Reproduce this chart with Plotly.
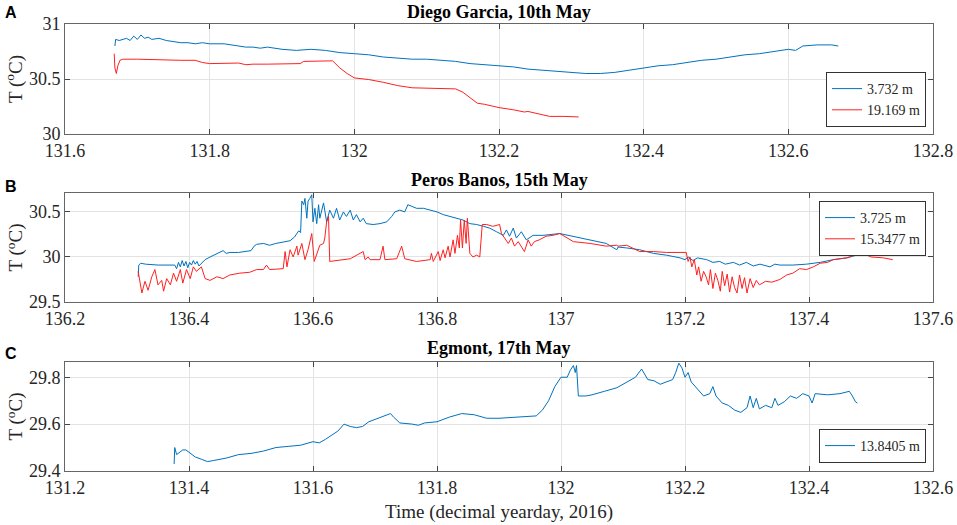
import plotly.graph_objects as go

# Diego Garcia, 10th May
dg_blue_x = [131.669, 131.670, 131.675, 131.680, 131.685, 131.690, 131.695, 131.700, 131.705, 131.710,
             131.715, 131.720, 131.730, 131.740, 131.750, 131.760, 131.770, 131.780, 131.790, 131.800,
             131.820, 131.840, 131.850, 131.860, 131.870, 131.880, 131.900, 131.920, 131.940, 131.960,
             131.980, 132.000, 132.020, 132.040, 132.060, 132.080, 132.100, 132.120, 132.140, 132.160,
             132.180, 132.200, 132.220, 132.240, 132.260, 132.280, 132.300, 132.320, 132.340, 132.360,
             132.380, 132.400, 132.420, 132.440, 132.460, 132.480, 132.500, 132.520, 132.540, 132.560,
             132.580, 132.600, 132.610, 132.620, 132.640, 132.660, 132.669]
dg_blue_y = [30.80, 30.86, 30.85, 30.86, 30.87, 30.85, 30.89, 30.86, 30.90, 30.87,
             30.88, 30.86, 30.87, 30.85, 30.84, 30.83, 30.83, 30.82, 30.83, 30.82,
             30.82, 30.80, 30.79, 30.79, 30.78, 30.79, 30.77, 30.76, 30.77, 30.76,
             30.74, 30.73, 30.72, 30.70, 30.69, 30.68, 30.68, 30.67, 30.66, 30.64,
             30.63, 30.62, 30.61, 30.59, 30.58, 30.57, 30.56, 30.55, 30.55, 30.56,
             30.58, 30.60, 30.62, 30.63, 30.65, 30.67, 30.68, 30.70, 30.72, 30.73,
             30.75, 30.77, 30.76, 30.80, 30.81, 30.81, 30.80]
dg_red_x = [131.668, 131.669, 131.671, 131.673, 131.676, 131.680, 131.700, 131.720, 131.740, 131.760,
            131.780, 131.790, 131.800, 131.820, 131.840, 131.850, 131.860, 131.880, 131.900, 131.925,
            131.930, 131.950, 131.970, 131.980, 131.990, 132.000, 132.020, 132.040, 132.060, 132.080,
            132.100, 132.120, 132.140, 132.150, 132.160, 132.170, 132.180, 132.200, 132.220, 132.230,
            132.235, 132.240, 132.250, 132.270, 132.290, 132.310]
dg_red_y = [30.73, 30.60, 30.55, 30.62, 30.67, 30.68, 30.68, 30.675, 30.675, 30.67,
            30.67, 30.65, 30.64, 30.645, 30.645, 30.63, 30.635, 30.635, 30.635, 30.64,
            30.66, 30.665, 30.665, 30.60, 30.55, 30.51, 30.495, 30.47, 30.44, 30.42,
            30.415, 30.415, 30.41, 30.38, 30.33, 30.28, 30.27, 30.24, 30.22, 30.21,
            30.20, 30.205, 30.19, 30.16, 30.16, 30.155]

# Peros Banos, 15th May
pb_blue_x = [136.318, 136.319, 136.322, 136.330, 136.350, 136.377, 136.380, 136.383, 136.386, 136.389,
             136.392, 136.395, 136.398, 136.401, 136.404, 136.407, 136.410, 136.413, 136.416, 136.420,
             136.426, 136.434, 136.445, 136.450, 136.455, 136.460, 136.466, 136.480, 136.490, 136.500,
             136.505, 136.509, 136.520, 136.530, 136.540, 136.550, 136.563, 136.570, 136.577, 136.580,
             136.582, 136.585, 136.587, 136.590, 136.592, 136.595, 136.598, 136.600, 136.603, 136.606,
             136.609, 136.611, 136.617, 136.622, 136.627, 136.633, 136.638, 136.643, 136.649, 136.654,
             136.660, 136.665, 136.670, 136.676, 136.681, 136.686, 136.697, 136.708, 136.719, 136.727,
             136.732, 136.740, 136.748, 136.753, 136.759, 136.767, 136.778, 136.789, 136.800, 136.810,
             136.821, 136.832, 136.842, 136.853, 136.864, 136.875, 136.885, 136.896, 136.907, 136.912,
             136.917, 136.923, 136.928, 136.936, 136.944, 136.955, 136.971, 136.998, 137.020, 137.047,
             137.073, 137.090, 137.092, 137.106, 137.127, 137.149, 137.170, 137.192, 137.200, 137.205,
             137.213, 137.220, 137.235, 137.245, 137.256, 137.265, 137.278, 137.288, 137.299, 137.310,
             137.321, 137.337, 137.345, 137.353, 137.374, 137.396, 137.418, 137.439, 137.461, 137.477,
             137.500, 137.520, 137.530, 137.535]
pb_blue_y = [29.78, 29.91, 29.93, 29.92, 29.91, 29.91, 29.87, 29.94, 29.89, 29.96,
             29.90, 29.95, 29.88, 29.94, 29.91, 29.96, 29.92, 29.95, 29.90, 29.93,
             29.97, 30.00, 30.04, 30.05, 30.07, 30.04, 30.05, 30.05, 30.06, 30.07,
             30.12, 30.14, 30.15, 30.13, 30.15, 30.16, 30.18, 30.22, 30.29, 30.27,
             30.62, 30.58, 30.65, 30.43, 30.62, 30.65, 30.69, 30.39, 30.54, 30.37,
             30.58, 30.43, 30.60, 30.39, 30.52, 30.43, 30.54, 30.41, 30.50, 30.45,
             30.52, 30.41, 30.47, 30.39, 30.43, 30.37, 30.36, 30.37, 30.39, 30.45,
             30.50, 30.52, 30.50, 30.58, 30.56, 30.54, 30.54, 30.52, 30.50, 30.47,
             30.45, 30.43, 30.41, 30.37, 30.36, 30.34, 30.32, 30.28, 30.24, 30.30,
             30.23, 30.32, 30.21, 30.28, 30.19, 30.24, 30.24, 30.26, 30.23, 30.19,
             30.15, 30.08, 30.11, 30.10, 30.08, 30.04, 30.02, 29.99, 29.97, 30.00,
             29.96, 29.99, 29.97, 29.94, 29.95, 29.92, 29.94, 29.91, 29.94, 29.90,
             29.92, 29.89, 29.92, 29.91, 29.91, 29.92, 29.94, 29.97, 29.99, 30.02,
             30.05, 30.07, 30.09, 30.12]
pb_red_x = [136.318, 136.324, 136.329, 136.334, 136.340, 136.345, 136.350, 136.356, 136.359, 136.364,
            136.370, 136.375, 136.380, 136.386, 136.390, 136.396, 136.402, 136.407, 136.412, 136.420,
            136.426, 136.434, 136.445, 136.455, 136.466, 136.482, 136.498, 136.509, 136.520, 136.525,
            136.530, 136.552, 136.555, 136.558, 136.563, 136.568, 136.574, 136.576, 136.582, 136.587,
            136.592, 136.598, 136.602, 136.606, 136.611, 136.617, 136.619, 136.622, 136.625, 136.627,
            136.638, 136.660, 136.681, 136.684, 136.689, 136.692, 136.708, 136.713, 136.716, 136.735,
            136.743, 136.748, 136.767, 136.789, 136.791, 136.794, 136.802, 136.805, 136.810, 136.813,
            136.818, 136.821, 136.826, 136.829, 136.833, 136.836, 136.838, 136.841, 136.844, 136.847,
            136.849, 136.853, 136.858, 136.864, 136.869, 136.872, 136.873, 136.880, 136.890, 136.901,
            136.904, 136.909, 136.915, 136.920, 136.925, 136.931, 136.936, 136.941, 136.947, 136.952,
            136.957, 136.965, 136.976, 136.987, 136.998, 137.020, 137.047, 137.073, 137.090, 137.092,
            137.106, 137.127, 137.149, 137.170, 137.192, 137.202, 137.205, 137.208, 137.211, 137.215,
            137.219, 137.222, 137.226, 137.230, 137.234, 137.238, 137.241, 137.245, 137.249, 137.253,
            137.257, 137.260, 137.264, 137.268, 137.272, 137.276, 137.280, 137.284, 137.288, 137.292,
            137.296, 137.300, 137.305, 137.310, 137.315, 137.320, 137.330, 137.340, 137.353, 137.364,
            137.374, 137.385, 137.396, 137.407, 137.418, 137.430, 137.439, 137.450, 137.461, 137.477,
            137.490, 137.500, 137.520, 137.535]
pb_red_y = [29.84, 29.60, 29.73, 29.63, 29.78, 29.86, 29.69, 29.74, 29.62, 29.76,
            29.69, 29.82, 29.73, 29.86, 29.71, 29.86, 29.76, 29.89, 29.84, 29.89,
            29.76, 29.74, 29.78, 29.76, 29.80, 29.82, 29.83, 29.86, 29.86, 29.91,
            29.86, 29.87, 30.06, 29.89, 30.08, 30.00, 30.12, 30.02, 30.15, 29.97,
            30.08, 30.26, 29.95, 30.04, 30.13, 30.15, 30.21, 30.39, 30.45, 29.95,
            29.96, 29.98, 30.06, 29.97, 30.00, 29.97, 29.97, 30.12, 29.97, 29.98,
            30.12, 29.98, 29.95, 29.97, 30.04, 29.95, 30.06, 29.96, 30.08, 29.99,
            30.12, 30.00, 30.19, 30.04, 30.24, 30.10, 30.41, 30.10, 30.41, 30.15,
            30.43, 30.04, 30.00, 30.02, 30.00, 30.24, 30.36, 30.36, 30.34, 30.36,
            30.26, 30.21, 30.15, 30.21, 30.12, 30.17, 30.12, 30.06, 30.19, 30.12,
            30.17, 30.19, 30.23, 30.24, 30.26, 30.17, 30.15, 30.12, 30.13, 30.12,
            30.13, 30.06, 30.06, 30.05, 30.05, 30.05, 29.95, 30.00, 29.89, 29.97,
            29.80, 29.89, 29.73, 29.84, 29.78, 29.69, 29.86, 29.65, 29.82, 29.74,
            29.62, 29.84, 29.68, 29.81, 29.61, 29.78, 29.66, 29.60, 29.80, 29.65,
            29.77, 29.60, 29.76, 29.66, 29.74, 29.69, 29.73, 29.72, 29.75, 29.80,
            29.82, 29.87, 29.86, 29.89, 29.93, 29.94, 29.97, 29.98, 29.99, 30.03,
            30.03, 30.00, 29.99, 29.97]

# Egmont, 17th May
eg_x = [131.376, 131.377, 131.380, 131.385, 131.390, 131.395, 131.400, 131.410, 131.420, 131.430,
        131.440, 131.460, 131.480, 131.500, 131.520, 131.540, 131.560, 131.580, 131.600, 131.610,
        131.620, 131.640, 131.650, 131.660, 131.670, 131.680, 131.690, 131.700, 131.710, 131.720,
        131.725, 131.730, 131.740, 131.760, 131.770, 131.780, 131.800, 131.820, 131.840, 131.860,
        131.880, 131.900, 131.930, 131.960, 131.970, 131.980, 131.990, 132.000, 132.010, 132.015,
        132.020, 132.023, 132.025, 132.028, 132.040, 132.050, 132.070, 132.090, 132.100, 132.120,
        132.130, 132.140, 132.150, 132.160, 132.180, 132.185, 132.190, 132.195, 132.200, 132.205,
        132.210, 132.220, 132.230, 132.240, 132.245, 132.250, 132.260, 132.270, 132.280, 132.290,
        132.300, 132.305, 132.310, 132.315, 132.320, 132.330, 132.340, 132.345, 132.350, 132.360,
        132.370, 132.380, 132.390, 132.400, 132.405, 132.410, 132.430, 132.450, 132.465, 132.470,
        132.475, 132.478]
eg_y = [29.43, 29.50, 29.47, 29.48, 29.49, 29.49, 29.48, 29.46, 29.45, 29.44,
        29.445, 29.455, 29.47, 29.475, 29.485, 29.50, 29.505, 29.51, 29.525, 29.52,
        29.535, 29.57, 29.60, 29.59, 29.585, 29.59, 29.61, 29.62, 29.63, 29.64,
        29.645, 29.63, 29.605, 29.60, 29.595, 29.605, 29.61, 29.63, 29.645, 29.64,
        29.625, 29.625, 29.63, 29.635, 29.66, 29.70, 29.76, 29.80, 29.80, 29.83,
        29.85, 29.82, 29.85, 29.72, 29.72, 29.725, 29.74, 29.755, 29.77, 29.80,
        29.835, 29.79, 29.785, 29.77, 29.79, 29.82, 29.86, 29.84, 29.80, 29.82,
        29.78, 29.75, 29.72, 29.73, 29.76, 29.72, 29.69, 29.68, 29.66, 29.65,
        29.67, 29.72, 29.67, 29.71, 29.665, 29.68, 29.67, 29.71, 29.68, 29.695,
        29.72, 29.71, 29.73, 29.72, 29.69, 29.73, 29.725, 29.73, 29.74, 29.72,
        29.695, 29.69]

titles = ["Diego Garcia, 10th May", "Peros Banos, 15th May", "Egmont, 17th May"]
letters = ["A", "B", "C"]
x_ranges = [[131.6, 132.8], [136.2, 137.6], [131.2, 132.6]]
y_ranges = [[30, 31], [29.5, 30.71], [29.4, 29.865]]
y_ticks = [[30, 30.5, 31], [29.5, 30, 30.5], [29.4, 29.6, 29.8]]

BLUE = "#0072BD"
RED = "#FF2020"
SERIF = "Liberation Serif, Times New Roman, serif"

fig = go.Figure()
fig.add_trace(go.Scatter(x=dg_blue_x, y=dg_blue_y, mode="lines", name="3.732 m",
                         line=dict(color=BLUE, width=1), xaxis="x", yaxis="y", legend="legend"))
fig.add_trace(go.Scatter(x=dg_red_x, y=dg_red_y, mode="lines", name="19.169 m",
                         line=dict(color=RED, width=1), xaxis="x", yaxis="y", legend="legend"))
fig.add_trace(go.Scatter(x=pb_blue_x, y=pb_blue_y, mode="lines", name="3.725 m",
                         line=dict(color=BLUE, width=1), xaxis="x2", yaxis="y2", legend="legend2"))
fig.add_trace(go.Scatter(x=pb_red_x, y=pb_red_y, mode="lines", name="15.3477 m",
                         line=dict(color=RED, width=1), xaxis="x2", yaxis="y2", legend="legend2"))
fig.add_trace(go.Scatter(x=eg_x, y=eg_y, mode="lines", name="13.8405 m",
                         line=dict(color=BLUE, width=1), xaxis="x3", yaxis="y3", legend="legend3"))

W, H = 957, 525


def fx(px):
    return px / W


def fy(py):
    return 1 - py / H


# plot areas in pixels (top, bottom)
rows_px = [(24, 134), (193, 302), (362, 471)]
left_px, right_px = 65, 933
title_y = [12, 180, 348]
letter_y = [12, 186, 353]

axis_common = dict(showline=True, linecolor="#666666", linewidth=1, mirror="allticks",
                   ticks="inside", ticklen=5, tickcolor="#444444", automargin=False,
                   showgrid=True, gridcolor="#e3e3e3", gridwidth=1, zeroline=False,
                   tickfont=dict(family=SERIF, size=18, color="#262626"))

layout = dict(width=W, height=H, margin=dict(l=0, r=0, t=0, b=0, autoexpand=False),
              paper_bgcolor="white", plot_bgcolor="white")
annotations = []
for i, (top, bot) in enumerate(rows_px):
    sfx = "" if i == 0 else str(i + 1)
    layout["xaxis" + sfx] = dict(axis_common, domain=[fx(left_px), fx(right_px)],
                                 range=x_ranges[i], dtick=0.2, tickformat="~r",
                                 anchor="y" + sfx)
    layout["yaxis" + sfx] = dict(axis_common, domain=[fy(bot), fy(top)],
                                 range=y_ranges[i], tickvals=y_ticks[i],
                                 anchor="x" + sfx)
    annotations.append(dict(text="<b>" + titles[i] + "</b>", x=fx(499), y=fy(title_y[i]),
                            xanchor="center", yanchor="middle", xref="paper", yref="paper",
                            showarrow=False, font=dict(family=SERIF, size=18, color="black")))
    annotations.append(dict(text="<b>" + letters[i] + "</b>", x=fx(11), y=fy(letter_y[i]),
                            xanchor="center", yanchor="middle", xref="paper", yref="paper",
                            showarrow=False,
                            font=dict(family="Liberation Sans, Arial", size=16, color="black")))
    annotations.append(dict(text="T (<sup>o</sup>C)", textangle=-90, x=fx(15),
                            y=fy((top + bot) / 2), xanchor="center", yanchor="middle",
                            xref="paper", yref="paper", showarrow=False,
                            font=dict(family=SERIF, size=19, color="#262626")))

annotations.append(dict(text="Time (decimal yearday, 2016)", x=fx(499), y=fy(512),
                        xanchor="center", yanchor="middle", xref="paper", yref="paper",
                        showarrow=False, font=dict(family=SERIF, size=19, color="#262626")))
layout["annotations"] = annotations

leg_common = dict(bgcolor="white", bordercolor="#333333", borderwidth=1,
                  font=dict(family=SERIF, size=14, color="#262626"),
                  tracegroupgap=0, itemwidth=30, xanchor="right")
layout["legend"] = dict(leg_common, x=fx(926), y=fy(127), yanchor="bottom")
layout["legend2"] = dict(leg_common, x=fx(926), y=fy(201), yanchor="top")
layout["legend3"] = dict(leg_common, x=fx(926), y=fy(463), yanchor="bottom")

fig.update_layout(layout)
# drop the page's default body margin so the figure sits at the window corner
fig.write_html("out.html", config={"displayModeBar": False},
               post_script="document.body.style.margin = '0';")
